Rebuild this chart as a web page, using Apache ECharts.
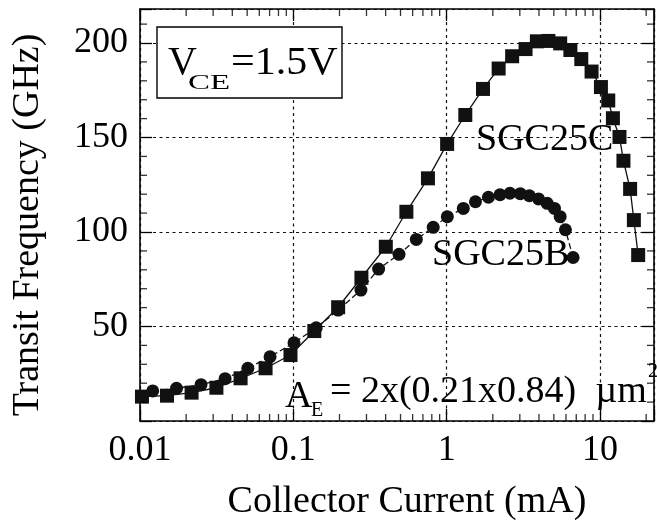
<!DOCTYPE html>
<html>
<head>
<meta charset="utf-8">
<script src="https://cdn.jsdelivr.net/npm/echarts@6/dist/echarts.min.js"></script>
<style>
  html, body { margin: 0; padding: 0; background: #fff; }
  #chart { width: 657px; height: 527px; }
</style>
</head>
<body>
<div id="chart"></div>
<script>
// SGC25C (squares, solid line)
const currentC = [0.0103, 0.0150, 0.0217, 0.0315, 0.0453, 0.0659, 0.0958, 0.137, 0.196, 0.278,
    0.401, 0.546, 0.755, 1.007, 1.323, 1.726, 2.183, 2.673, 3.27, 3.875, 4.61, 5.50, 6.41, 7.55,
    8.81, 10.14, 11.32, 12.14, 13.40, 14.22, 15.72, 16.63, 17.74];
const ftC = [12.9, 13.4, 15.0, 17.6, 22.6, 27.9, 34.9, 47.6, 60.2, 75.8,
    92.2, 110.7, 128.4, 146.6, 161.9, 175.7, 186.5, 193.0, 196.8, 200.9, 201.1, 199.8, 196.3, 191.5,
    184.9, 176.7, 169.6, 160.2, 150.3, 137.7, 122.8, 106.3, 87.8];

// SGC25B (circles, dashed line)
const currentB = [0.0121, 0.0173, 0.0250, 0.0359, 0.0505, 0.0705, 0.101, 0.141, 0.196, 0.276,
    0.360, 0.489, 0.634, 0.817, 1.010, 1.284, 1.541, 1.872, 2.227, 2.586, 3.021, 3.462, 3.973,
    4.525, 5.048, 5.497, 5.95, 6.675];
const ftB = [15.9, 17.3, 19.2, 22.4, 27.9, 34.0, 41.4, 49.3, 58.7, 69.3,
    80.4, 88.2, 96.1, 102.5, 108.1, 112.5, 116.0, 118.4, 119.7, 120.5, 120.3, 119.2, 117.5,
    115.2, 112.5, 108.1, 101.2, 86.5];

// axes
const xMin = 0.01, xMax = 22.5;
const yMin = 0, yMax = 218;
const xTickLabels = { '-2': '0.01', '-1': '0.1', '0': '1', '1': '10' };
const yTickLabels = [50, 100, 150, 200];
const xMinorTicks = [0.02, 0.03, 0.04, 0.05, 0.06, 0.07, 0.08, 0.09,
    0.2, 0.3, 0.4, 0.5, 0.6, 0.7, 0.8, 0.9, 2, 3, 4, 5, 6, 7, 8, 9, 20];
const yMinorTicks = [10, 20, 30, 40, 60, 70, 80, 90, 110, 120, 130, 140, 160, 170, 180, 190, 210];

const FONT = "'Liberation Serif', 'DejaVu Serif', serif";
const zip = (xs, ys) => xs.map((x, i) => [x, ys[i]]);

const chart = echarts.init(document.getElementById('chart'));

const gridLine = { show: true, lineStyle: { color: '#111', width: 1.2, type: [3, 3.5] } };
const axisLine = { show: true, onZero: false, lineStyle: { color: '#000', width: 1.6 } };
const majorTick = { show: true, inside: true, length: 12, lineStyle: { color: '#000', width: 1.3 } };

function tickSeries(data, size, offset) {
    return {
        type: 'scatter', silent: true, clip: false, z: 5,
        symbol: 'rect', symbolSize: size, symbolOffset: offset,
        itemStyle: { color: '#000' },
        data: data
    };
}

function label(x, y, text, size, extra) {
    return Object.assign({
        type: 'text', z: 11, x: x, y: y,
        style: { text: text, font: size + 'px ' + FONT, fill: '#000', textVerticalAlign: 'middle' }
    }, extra || {});
}

const option = {
    animation: false,
    backgroundColor: '#fff',
    grid: { left: 140, top: 9, right: 1, bottom: 106 },
    xAxis: [
        {
            type: 'log', logBase: 10, min: xMin, max: xMax, position: 'bottom',
            axisLine: axisLine,
            axisTick: majorTick,
            axisLabel: {
                fontFamily: FONT, fontSize: 36, color: '#000', margin: 12,
                formatter: v => {
                    const e = Math.round(Math.log10(v));
                    return Math.abs(Math.log10(v) - e) < 1e-6 && xTickLabels[e] ? xTickLabels[e] : '';
                }
            },
            splitLine: gridLine,
            name: 'Collector Current (mA)', nameLocation: 'middle', nameGap: 62,
            nameTextStyle: { fontFamily: FONT, fontSize: 38, color: '#000', padding: [0, 0, 0, 20] }
        },
        {
            type: 'log', logBase: 10, min: xMin, max: xMax, position: 'top',
            axisLine: axisLine,
            axisTick: majorTick,
            axisLabel: { show: false },
            splitLine: { show: false }
        }
    ],
    yAxis: [
        {
            type: 'value', min: yMin, max: yMax, interval: 50, position: 'left',
            axisLine: axisLine,
            axisTick: majorTick,
            axisLabel: {
                fontFamily: FONT, fontSize: 36, color: '#000', margin: 12,
                formatter: v => yTickLabels.indexOf(v) >= 0 ? String(v) : ''
            },
            splitLine: gridLine,
            name: 'Transit Frequency (GHz)', nameLocation: 'middle', nameGap: 93,
            nameTextStyle: { fontFamily: FONT, fontSize: 38, color: '#000', padding: [0, 20, 0, 0] }
        },
        {
            type: 'value', min: yMin, max: yMax, interval: 50, position: 'right',
            axisLine: axisLine,
            axisTick: majorTick,
            axisLabel: { show: false },
            splitLine: { show: false }
        }
    ],
    series: [
        {
            name: 'SGC25B', type: 'line', clip: false, z: 3,
            data: zip(currentB, ftB),
            symbol: 'circle', symbolSize: 13,
            itemStyle: { color: '#111' },
            lineStyle: { color: '#111', width: 1.3, type: [6, 3] }
        },
        {
            name: 'SGC25C', type: 'line', clip: false, z: 4,
            data: zip(currentC, ftC),
            symbol: 'rect', symbolSize: 14,
            itemStyle: { color: '#111' },
            lineStyle: { color: '#111', width: 1.3 }
        },
        // minor ticks (bottom, top, left, right)
        tickSeries(xMinorTicks.map(v => [v, yMin]), [1.3, 7], [0, -3.5]),
        tickSeries(xMinorTicks.map(v => [v, yMax]), [1.3, 7], [0, 3.5]),
        tickSeries(yMinorTicks.map(v => [xMin, v]), [7, 1.3], [3.5, 0]),
        tickSeries(yMinorTicks.map(v => [xMax, v]), [7, 1.3], [-3.5, 0])
    ],
    graphic: [
        {
            type: 'rect', z: 10,
            shape: { x: 157, y: 27, width: 185, height: 71 },
            style: { fill: '#fff', stroke: '#000', lineWidth: 1.4 }
        },
        label(168, 63, 'V', 40),
        label(188, 83, 'CE', 22, { scaleX: 1.5 }),
        label(231, 63, '=1.5V', 40, { scaleX: 1.05 }),

        label(476, 140, 'SGC25C', 38),
        label(432, 255, 'SGC25B', 38),

        label(285, 397, 'A', 38),
        label(311, 411, 'E', 20),
        label(330, 392, '= 2x(0.21x0.84)  \u00b5m', 38),
        label(648, 372, '2', 20)
    ]
};

chart.setOption(option);
</script>
</body>
</html>
